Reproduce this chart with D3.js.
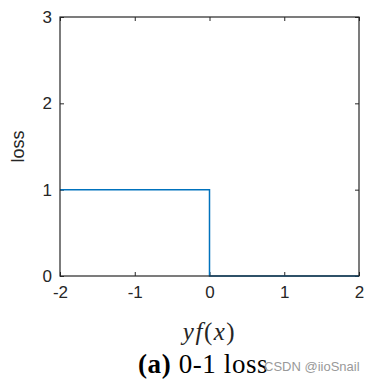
<!DOCTYPE html>
<html>
<head>
<meta charset="utf-8">
<script src="https://cdn.jsdelivr.net/npm/d3@7"></script>
<style>
  body { margin: 0; background: #fff; }
  svg { display: block; }
</style>
</head>
<body>
<div id="chart"></div>
<script>
// 0-1 loss step
var lossX = [-2, 0, 0, 2];
var lossY = [1, 1, 0, 0];
var xTicks = [-2, -1, 0, 1, 2];
var yTicks = [0, 1, 2, 3];

var width = 370, height = 388;
var margin = {left: 60, right: 11, top: 17, bottom: 112};

var svg = d3.select("#chart").append("svg")
  .attr("width", width)
  .attr("height", height);

var x = d3.scaleLinear().domain([-2, 2]).range([margin.left, width - margin.right]);
var y = d3.scaleLinear().domain([0, 3]).range([height - margin.bottom, margin.top]);

var tickFont = "Liberation Sans, Arial, sans-serif";
var fmt = function(d) { return String(d); };  // plain hyphen, like matlab

// bottom / left axes with labels, ticks pointing inside
svg.append("g")
  .attr("transform", "translate(0," + y(0) + ")")
  .call(d3.axisBottom(x).tickValues(xTicks).tickSize(-4).tickPadding(10).tickFormat(fmt))
  .call(function(g) {
    g.select(".domain").remove();
    g.selectAll("line").attr("stroke", "#262626");
    g.selectAll("text").attr("font-family", tickFont).attr("font-size", 17).attr("fill", "#262626");
  });

svg.append("g")
  .attr("transform", "translate(" + x(-2) + ",0)")
  .call(d3.axisLeft(y).tickValues(yTicks).tickSize(-4).tickPadding(8).tickFormat(fmt))
  .call(function(g) {
    g.select(".domain").remove();
    g.selectAll("line").attr("stroke", "#262626");
    g.selectAll("text").attr("font-family", tickFont).attr("font-size", 17).attr("fill", "#262626");
  });

// top / right ticks (box on)
svg.append("g")
  .attr("transform", "translate(0," + y(3) + ")")
  .call(d3.axisTop(x).tickValues(xTicks).tickSize(-4).tickFormat(""))
  .call(function(g) { g.select(".domain").remove(); g.selectAll("line").attr("stroke", "#262626"); });

svg.append("g")
  .attr("transform", "translate(" + x(2) + ",0)")
  .call(d3.axisRight(y).tickValues(yTicks).tickSize(-4).tickFormat(""))
  .call(function(g) { g.select(".domain").remove(); g.selectAll("line").attr("stroke", "#262626"); });

// the line
var line = d3.line()
  .x(function(d) { return x(d[0]); })
  .y(function(d) { return y(d[1]); });

svg.append("path")
  .datum(d3.zip(lossX, lossY))
  .attr("d", line)
  .attr("fill", "none")
  .attr("stroke", "#0072BD")
  .attr("stroke-width", 1.5);

// box
svg.append("rect")
  .attr("x", x(-2))
  .attr("y", y(3))
  .attr("width", x(2) - x(-2))
  .attr("height", y(0) - y(3))
  .attr("fill", "none")
  .attr("stroke", "#262626")
  .attr("stroke-width", 1.2);

// axis labels
svg.append("text")
  .attr("transform", "translate(24," + y(1.5) + ") rotate(-90)")
  .attr("text-anchor", "middle")
  .attr("font-family", tickFont)
  .attr("font-size", 18)
  .attr("fill", "#262626")
  .text("loss");

var xl = svg.append("text")
  .attr("x", x(0))
  .attr("y", 340)
  .attr("text-anchor", "middle")
  .attr("font-family", "Liberation Serif, Times New Roman, serif")
  .attr("font-size", 25)
  .attr("letter-spacing", 1.5)
  .attr("fill", "#262626");
xl.append("tspan").attr("font-style", "italic").text("yf");
xl.append("tspan").text("(");
xl.append("tspan").attr("font-style", "italic").text("x");
xl.append("tspan").text(")");

// caption
var cap = svg.append("text")
  .attr("x", 138)
  .attr("y", 373)
  .attr("font-family", "Liberation Serif, Times New Roman, serif")
  .attr("font-size", 27)
  .attr("letter-spacing", 0.6)
  .attr("fill", "#000");
cap.append("tspan").attr("font-weight", "bold").text("(a)");
cap.append("tspan").text(" 0-1 loss");

svg.append("text")
  .attr("x", 264)
  .attr("y", 371)
  .attr("font-family", tickFont)
  .attr("font-size", 13)
  .attr("fill", "#999")
  .text("CSDN @iioSnail");
</script>
</body>
</html>
